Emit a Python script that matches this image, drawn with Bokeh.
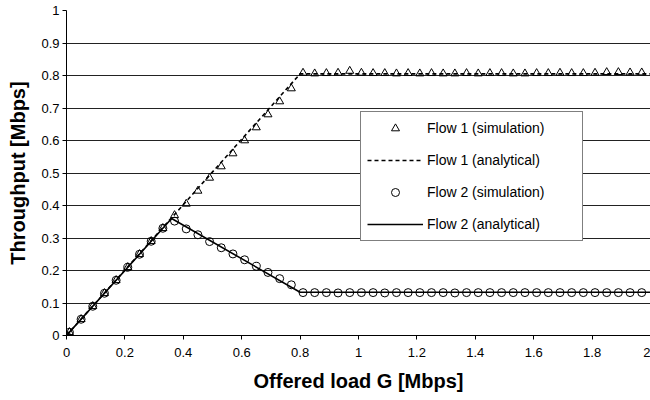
from bokeh.plotting import figure
from bokeh.models import Legend, LegendItem, FixedTicker, NumeralTickFormatter
from bokeh.embed import file_html
from bokeh.resources import INLINE

# ---- data ----
sim_x = [0, 0.01, 0.05, 0.09, 0.13, 0.17, 0.21, 0.25, 0.29, 0.33, 0.37, 0.41, 0.45,
         0.49, 0.53, 0.57, 0.61, 0.65, 0.69, 0.73, 0.77, 0.81, 0.85, 0.89, 0.93,
         0.97, 1.01, 1.05, 1.09, 1.13, 1.17, 1.21, 1.25, 1.29, 1.33, 1.37, 1.41,
         1.45, 1.49, 1.53, 1.57, 1.61, 1.65, 1.69, 1.73, 1.77, 1.81, 1.85, 1.89,
         1.93, 1.97]
flow1_sim = [0, 0.01, 0.05, 0.09, 0.13, 0.17, 0.21, 0.25, 0.29, 0.33, 0.37, 0.405,
             0.445, 0.485, 0.52, 0.56, 0.60, 0.64, 0.68, 0.72, 0.76, 0.808, 0.806,
             0.807, 0.808, 0.814, 0.808, 0.807, 0.807, 0.806, 0.807, 0.806, 0.807,
             0.806, 0.806, 0.807, 0.806, 0.807, 0.807, 0.806, 0.806, 0.807, 0.807,
             0.808, 0.807, 0.807, 0.808, 0.810, 0.810, 0.809, 0.809]
flow2_sim = [0, 0.01, 0.05, 0.09, 0.13, 0.17, 0.21, 0.25, 0.29, 0.33, 0.352, 0.328,
             0.31, 0.289, 0.27, 0.251, 0.233, 0.213, 0.194, 0.175, 0.156, 0.132,
             0.132, 0.132, 0.131, 0.132, 0.132, 0.132, 0.131, 0.132, 0.132, 0.132,
             0.132, 0.132, 0.131, 0.132, 0.132, 0.132, 0.132, 0.132, 0.132, 0.132,
             0.132, 0.132, 0.132, 0.132, 0.132, 0.132, 0.132, 0.132, 0.132]
flow1_an_x = [0, 0.8, 2.0]
flow1_an_y = [0, 0.805, 0.805]
flow2_an_x = [0, 0.36, 0.8, 2.0]
flow2_an_y = [0, 0.36, 0.133, 0.133]
x_ticks = [0, 0.2, 0.4, 0.6, 0.8, 1.0, 1.2, 1.4, 1.6, 1.8, 2.0]
y_ticks = [0, 0.1, 0.2, 0.3, 0.4, 0.5, 0.6, 0.7, 0.8, 0.9, 1.0]
labels = ["Flow 1 (simulation)", "Flow 1 (analytical)",
          "Flow 2 (simulation)", "Flow 2 (analytical)"]

FONT = "Liberation Sans"

p = figure(width=650, height=400, x_range=(0, 2), y_range=(0, 1),
           output_backend="svg", toolbar_location=None,
           min_border_left=66, min_border_right=0, min_border_top=10,
           min_border_bottom=65)
p.outline_line_color = None
p.background_fill_color = "white"
p.border_fill_color = "white"

p.xgrid.grid_line_color = None
p.ygrid.grid_line_color = "#222222"
p.ygrid.grid_line_width = 1

for ax in (p.xaxis[0], p.yaxis[0]):
    ax.axis_line_color = "black"
    ax.major_tick_line_color = "black"
    ax.minor_tick_line_color = None
    ax.major_tick_in = 0
    ax.major_tick_out = 4
    ax.major_label_text_font = FONT
    ax.major_label_text_font_size = "13px"
    ax.major_label_text_color = "black"
    ax.axis_label_text_font = FONT
    ax.axis_label_text_font_size = "20px"
    ax.axis_label_text_font_style = "bold"
    ax.axis_label_text_color = "black"
    ax.formatter = NumeralTickFormatter(format="0.[0]")

p.xaxis[0].ticker = FixedTicker(ticks=x_ticks)
p.yaxis[0].ticker = FixedTicker(ticks=y_ticks)
p.xaxis[0].axis_label = "Offered load G [Mbps]"
p.yaxis[0].axis_label = "Throughput [Mbps]"
p.xaxis[0].major_label_standoff = 8
p.xaxis[0].axis_label_standoff = 10
p.yaxis[0].major_label_standoff = 3
p.yaxis[0].axis_label_standoff = 9

r_f2an = p.line(flow2_an_x, flow2_an_y, line_color="black", line_width=1.6)
r_f1an = p.line(flow1_an_x, flow1_an_y, line_color="black", line_width=1.6,
                line_dash="4 3")
r_f1 = p.scatter(sim_x, flow1_sim, marker="triangle", size=8, line_color="black",
                 line_width=1, fill_color=None)
r_f2 = p.scatter(sim_x, flow2_sim, marker="circle", size=8, line_color="black",
                 line_width=1, fill_color=None)

legend = Legend(items=[
    LegendItem(label=labels[0], renderers=[r_f1]),
    LegendItem(label=labels[1], renderers=[r_f1an]),
    LegendItem(label=labels[2], renderers=[r_f2]),
    LegendItem(label=labels[3], renderers=[r_f2an]),
], location=(294, 94))
legend.margin = 0
legend.padding = 6
legend.spacing = 12
legend.glyph_height = 20
legend.glyph_width = 56
legend.label_standoff = 4
legend.label_width = 149
legend.label_text_font = FONT
legend.label_text_font_size = "14px"
legend.label_text_color = "black"
legend.border_line_color = "black"
legend.border_line_width = 1
legend.background_fill_color = "white"
legend.background_fill_alpha = 1
p.add_layout(legend, "center")

open("out.html", "w").write(file_html(p, INLINE))
